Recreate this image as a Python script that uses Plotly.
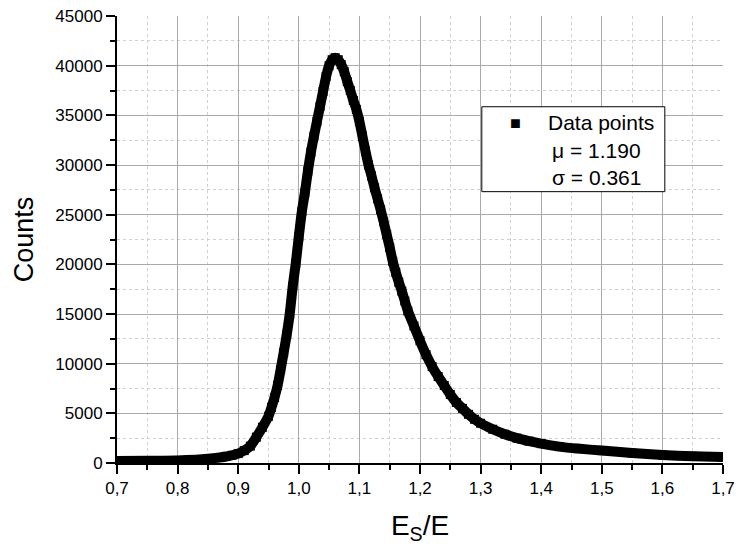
import plotly.graph_objects as go

# Values
x_vals = [0.70, 0.75, 0.80, 0.83, 0.85, 0.87, 0.88, 0.89, 0.90, 0.91, 0.92, 0.93,
          0.94, 0.95, 0.955, 0.96, 0.965, 0.97, 0.975, 0.98, 0.985, 0.99, 0.995,
          1.00, 1.005, 1.01, 1.015, 1.02, 1.025, 1.03, 1.035, 1.04, 1.045, 1.05,
          1.055, 1.06, 1.065, 1.07, 1.075, 1.08, 1.085, 1.09, 1.095, 1.10, 1.105,
          1.11, 1.115, 1.12, 1.125, 1.13, 1.135, 1.14, 1.145, 1.15, 1.155, 1.16,
          1.165, 1.17, 1.175, 1.18, 1.19, 1.20, 1.21, 1.22, 1.23, 1.24, 1.25,
          1.26, 1.27, 1.28, 1.29, 1.30, 1.32, 1.34, 1.36, 1.38, 1.40, 1.43, 1.46,
          1.50, 1.55, 1.60, 1.65, 1.70]
counts = [200, 220, 260, 330, 420, 560, 650, 780, 950, 1250, 1700, 2600,
          3600, 4700, 5600, 6600, 7800, 9400, 11100, 12900, 15000, 17800, 20100,
          22800, 25300, 27200, 29400, 31300, 32900, 34400, 35900, 37400, 38900, 40000,
          40600, 40800, 40600, 40100, 39400, 38400, 37500, 36500, 35600, 34400, 32900,
          31400, 30000, 28900, 27700, 26600, 25500, 24300, 23000, 21700, 20300, 19200,
          18200, 17300, 16300, 15300, 13800, 12300, 10900, 9700, 8700, 7800, 6900,
          6100, 5500, 4900, 4400, 4000, 3400, 2900, 2500, 2200, 1950, 1650, 1450,
          1250, 1000, 800, 680, 600]

x_ticks = [0.7, 0.8, 0.9, 1.0, 1.1, 1.2, 1.3, 1.4, 1.5, 1.6, 1.7]
x_tick_labels = ["0,7", "0,8", "0,9", "1,0", "1,1", "1,2", "1,3", "1,4", "1,5", "1,6", "1,7"]
y_ticks = [0, 5000, 10000, 15000, 20000, 25000, 30000, 35000, 40000, 45000]

legend_name = "Data points"
mu_text = "\u03bc = 1.190"
sigma_text = "\u03c3 = 0.361"

FONT = "Liberation Sans, Arial, sans-serif"

fig = go.Figure()
fig.add_trace(go.Scatter(
    x=x_vals, y=counts, mode="lines+markers",
    line=dict(color="black", width=10, shape="spline", smoothing=0.6),
    marker=dict(symbol="square", size=9, color="black"),
    name=legend_name, showlegend=False,
))

minor_grid = dict(showgrid=True, gridcolor="#d0d0d0", griddash="dot", gridwidth=1,
                  ticks="outside", ticklen=5, tickcolor="black", tickwidth=1.5)

fig.update_xaxes(
    range=[0.7, 1.7], tickmode="array", tickvals=x_ticks, ticktext=x_tick_labels,
    ticks="outside", ticklen=9, tickwidth=1.5, tickcolor="black",
    showline=True, linecolor="black", linewidth=2,
    showgrid=True, gridcolor="#aaaaaa", gridwidth=1,
    minor=dict(dtick=0.05, **minor_grid),
    tickfont=dict(family=FONT, size=17, color="black"),
    ticklabeloverflow="allow",
    title=dict(text="E<sub>S</sub>/E", font=dict(family=FONT, size=28, color="black"),
               standoff=18),
    zeroline=False, automargin=False,
)
fig.update_yaxes(
    range=[0, 45000], tickmode="array", tickvals=y_ticks,
    ticks="outside", ticklen=9, tickwidth=1.5, tickcolor="black",
    showline=True, linecolor="black", linewidth=2,
    showgrid=True, gridcolor="#aaaaaa", gridwidth=1,
    minor=dict(dtick=2500, **minor_grid),
    tickfont=dict(family=FONT, size=17, color="black"),
    ticklabeloverflow="allow",
    tickformat="d",
    title=dict(text="Counts", font=dict(family=FONT, size=27, color="black"),
               standoff=14),
    zeroline=False, automargin=False,
)

# legend box
fig.add_shape(type="rect", xref="paper", yref="paper",
              x0=0.602, x1=0.904, y0=0.607, y1=0.797,
              line=dict(color="black", width=1), fillcolor="white", layer="above")
fig.add_annotation(xref="paper", yref="paper", x=0.658, y=0.761, text="\u25a0",
                   xanchor="center", yanchor="middle", showarrow=False,
                   font=dict(family=FONT, size=18, color="black"))
fig.add_annotation(xref="paper", yref="paper", x=0.708, y=0.761, text=legend_name,
                   xanchor="left", yanchor="middle", showarrow=False,
                   font=dict(family=FONT, size=21, color="black"))
fig.add_annotation(xref="paper", yref="paper", x=0.714, y=0.700, text=mu_text,
                   xanchor="left", yanchor="middle", showarrow=False,
                   font=dict(family=FONT, size=21, color="black"))
fig.add_annotation(xref="paper", yref="paper", x=0.714, y=0.638, text=sigma_text,
                   xanchor="left", yanchor="middle", showarrow=False,
                   font=dict(family=FONT, size=21, color="black"))

fig.update_layout(
    width=736, height=545,
    margin=dict(l=117, r=13, t=16, b=82),
    paper_bgcolor="white", plot_bgcolor="white",
    showlegend=False,
)
fig.write_html(
    "out.html",
    config={"displayModeBar": False},
    post_script="document.body.style.margin='0';document.body.style.overflow='hidden';",
)
